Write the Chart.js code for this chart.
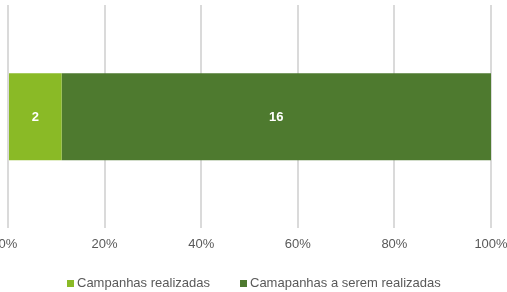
<!DOCTYPE html>
<html lang="pt">
<head>
<meta charset="UTF-8">
<title>Campanhas</title>
<script src="https://cdn.jsdelivr.net/npm/chart.js@4/dist/chart.umd.min.js"></script>
<style>
  html, body { margin: 0; padding: 0; background: #fff; }
  #wrap { position: relative; width: 507px; height: 292px; }
  #legend {
    position: absolute; left: 0; top: 275px; width: 507px; height: 16px;
    font: 13px "Liberation Sans", Arial, sans-serif; color: #595959;
  }
  #legend span.item { position: absolute; top: 0; line-height: 16px; white-space: nowrap; }
  #legend i { display: inline-block; width: 7px; height: 7px; margin-right: 3px; vertical-align: 0; }
</style>
</head>
<body>
<div id="wrap">
  <canvas id="chart"></canvas>
  <div id="legend"></div>
</div>
<script>
// data
const categories = ['Campanhas'];
const realizadas = [2];
const aRealizar = [16];
const seriesNames = ['Campanhas realizadas', 'Camapanhas a serem realizadas'];
const seriesColors = ['#8aba26', '#4e7a2f'];
const tickValues = [0, 20, 40, 60, 80, 100];

// 100% stacked: turn counts into shares
const totals = categories.map((c, i) => realizadas[i] + aRealizar[i]);
const pct = arr => arr.map((v, i) => v / totals[i] * 100);

// draw the counts in the middle of each segment
const barLabels = {
    id: 'barLabels',
    afterDatasetsDraw(chart) {
        const ctx = chart.ctx;
        ctx.save();
        ctx.fillStyle = '#ffffff';
        ctx.font = 'bold 13px "Liberation Sans", Arial, sans-serif';
        ctx.textAlign = 'center';
        ctx.textBaseline = 'middle';
        chart.data.datasets.forEach((ds, di) => {
            chart.getDatasetMeta(di).data.forEach((bar, i) => {
                const x = (bar.x + bar.base) / 2;
                ctx.fillText(ds.counts[i], x, bar.y + 1);
            });
        });
        ctx.restore();
    }
};

const chart = new Chart(document.getElementById('chart'), {
    type: 'bar',
    data: {
        labels: categories,
        datasets: [{
            label: seriesNames[0],
            data: pct(realizadas),
            counts: realizadas,
            backgroundColor: seriesColors[0]
        }, {
            label: seriesNames[1],
            data: pct(aRealizar),
            counts: aRealizar,
            backgroundColor: seriesColors[1]
        }]
    },
    options: {
        indexAxis: 'y',
        responsive: true,
        maintainAspectRatio: false,
        animation: false,
        layout: { padding: { left: 8, right: 16, top: 5, bottom: 32 } },
        datasets: { bar: { barPercentage: 0.39, categoryPercentage: 1 } },
        scales: {
            x: {
                stacked: true,
                min: 0,
                max: 100,
                afterBuildTicks: axis => { axis.ticks = tickValues.map(v => ({ value: v })); },
                // let the end labels hang off the edges like the original
                afterFit: axis => { axis.paddingLeft = 0; axis.paddingRight = 0; },
                grid: { color: '#dadada', lineWidth: 2, drawTicks: false },
                border: { display: false },
                ticks: {
                    padding: 8,
                    color: '#595959',
                    font: { family: '"Liberation Sans", Arial, sans-serif', size: 13 },
                    callback: v => v + '%'
                }
            },
            y: {
                stacked: true,
                display: false
            }
        },
        plugins: {
            legend: { display: false },
            tooltip: { enabled: false }
        }
    },
    plugins: [barLabels]
});

// legend drawn as html so the spacing can match
const legendLeft = [67, 240];
const legend = document.getElementById('legend');
chart.data.datasets.forEach((ds, i) => {
    const item = document.createElement('span');
    item.className = 'item';
    item.style.left = legendLeft[i] + 'px';
    item.innerHTML = '<i style="background:' + ds.backgroundColor + '"></i>' + ds.label;
    legend.appendChild(item);
});
</script>
</body>
</html>
